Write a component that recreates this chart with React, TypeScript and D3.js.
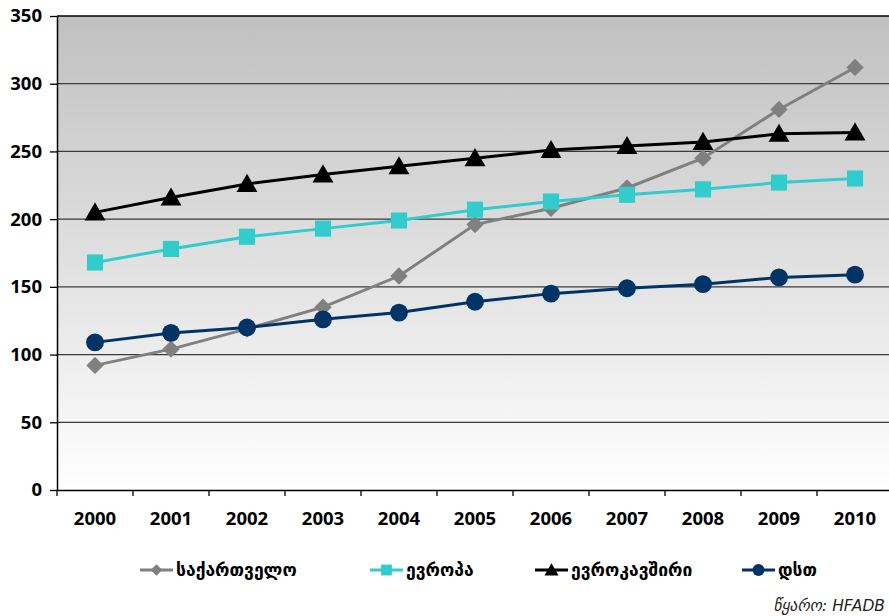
import { useEffect, useRef } from "react";
import * as d3 from "d3";

// ----- Data ---------------------------------------------------------------
const years = ["2000", "2001", "2002", "2003", "2004", "2005", "2006", "2007", "2008", "2009", "2010"];
const georgia = [92, 104, 119, 135, 158, 196, 208, 223, 245, 281, 312];
const europe = [168, 178, 187, 193, 199, 207, 213, 218, 222, 227, 230];
const eu = [205, 216, 226, 233, 239, 245, 251, 254, 257, 263, 264];
const cis = [109, 116, 120, 126, 131, 139, 145, 149, 152, 157, 159];
const yTicks = [0, 50, 100, 150, 200, 250, 300, 350];

const seriesNames = ["საქართველო", "ევროპა", "ევროკავშირი", "დსთ"];
const sourceLabel = "წყარო: HFADB";

type Marker = "diamond" | "square" | "triangle" | "circle";

const series: { name: string; values: number[]; color: string; marker: Marker }[] = [
  { name: seriesNames[0], values: georgia, color: "#808080", marker: "diamond" },
  { name: seriesNames[1], values: europe, color: "#33cccc", marker: "square" },
  { name: seriesNames[2], values: eu, color: "#000000", marker: "triangle" },
  { name: seriesNames[3], values: cis, color: "#003366", marker: "circle" },
];

const W = 889;
const H = 616;
const FONT = "'Open Sans', 'DejaVu Sans', sans-serif";

const App = () => {
  const svgRef = useRef<SVGSVGElement | null>(null);

  useEffect(() => {
    const svg = d3.select(svgRef.current);
    svg.selectAll("*").remove();

    const left = 57;
    const top = 16;
    const bottom = 490;
    const right = left + years.length * 76;

    const x = d3.scaleBand<string>().domain(years).range([left, right]);
    const y = d3.scaleLinear().domain([0, 350]).range([bottom, top]);
    const cx = (d: string) => (x(d) as number) + x.bandwidth() / 2;

    // background gradient
    const defs = svg.append("defs");
    const grad = defs
      .append("linearGradient")
      .attr("id", "bg")
      .attr("x1", 0)
      .attr("y1", 0)
      .attr("x2", 0)
      .attr("y2", 1);
    grad.append("stop").attr("offset", "0%").attr("stop-color", "#c0c0c0");
    grad.append("stop").attr("offset", "100%").attr("stop-color", "#ffffff");

    svg
      .append("rect")
      .attr("x", left)
      .attr("y", top)
      .attr("width", right - left)
      .attr("height", bottom - top)
      .attr("fill", "url(#bg)");

    // gridlines
    svg
      .append("g")
      .selectAll("line")
      .data(yTicks.filter((t) => t > 0))
      .join("line")
      .attr("x1", left)
      .attr("x2", right)
      .attr("y1", (d) => y(d))
      .attr("y2", (d) => y(d))
      .attr("stroke", (d) => (d === 350 ? "#000" : "#3a3a3a"))
      .attr("stroke-width", 1.3);

    // y axis
    const yAxis = svg
      .append("g")
      .attr("transform", `translate(${left},0)`)
      .call(d3.axisLeft(y).tickValues(yTicks).tickSize(7).tickPadding(8).tickSizeOuter(0));
    yAxis.select(".domain").attr("stroke", "#000").attr("stroke-width", 1.5);
    yAxis.selectAll("line").attr("stroke", "#000").attr("stroke-width", 1.3);
    yAxis
      .selectAll("text")
      .attr("font-family", FONT)
      .attr("font-weight", "bold")
      .attr("font-size", 18.5)
      .attr("fill", "#000");

    // x axis
    const xAxis = svg
      .append("g")
      .attr("transform", `translate(0,${bottom})`)
      .call(d3.axisBottom(x).tickSize(0).tickPadding(22).tickSizeOuter(0));
    xAxis.select(".domain").attr("stroke", "#000").attr("stroke-width", 1.5);
    xAxis
      .selectAll("text")
      .attr("font-family", FONT)
      .attr("font-weight", "bold")
      .attr("font-size", 18.5)
      .attr("fill", "#000");
    // category separator ticks
    svg
      .append("g")
      .selectAll("line")
      .data(years)
      .join("line")
      .attr("x1", (d) => x(d) as number)
      .attr("x2", (d) => x(d) as number)
      .attr("y1", bottom)
      .attr("y2", bottom + 6)
      .attr("stroke", "#000")
      .attr("stroke-width", 1.3);

    const symbolFor = (m: Marker, scale = 1) => {
      const map: Record<Marker, [d3.SymbolType, number]> = {
        diamond: [d3.symbolSquare, 150],
        square: [d3.symbolSquare, 260],
        triangle: [d3.symbolTriangle, 190],
        circle: [d3.symbolCircle, 250],
      };
      const [type, size] = map[m];
      return d3.symbol().type(type).size(size * scale)();
    };

    const drawMarker = (
      g: d3.Selection<SVGGElement, unknown, null, undefined>,
      m: Marker,
      px: number,
      py: number,
      color: string,
      scale = 1,
    ) => {
      const rot = m === "diamond" ? 45 : 0;
      const dy = m === "triangle" ? 2 * Math.sqrt(scale) : 0;
      g.append("path")
        .attr("d", symbolFor(m, scale) as string)
        .attr("transform", `translate(${px},${py + dy}) rotate(${rot})`)
        .attr("fill", color);
    };

    // lines & markers
    const plot = svg.append("g");
    series.forEach((s) => {
      const pts = years.map((yr, i) => [cx(yr), y(s.values[i])] as [number, number]);
      plot
        .append("path")
        .datum(pts)
        .attr("fill", "none")
        .attr("stroke", s.color)
        .attr("stroke-width", 3)
        .attr("d", d3.line());
      const mg = plot.append("g");
      pts.forEach(([px, py]) => drawMarker(mg, s.marker, px, py, s.color));
    });

    // legend
    const legendX = [140, 370, 535, 742];
    const legend = svg.append("g");
    series.forEach((s, i) => {
      const lx = legendX[i];
      const ly = 570;
      legend
        .append("line")
        .attr("x1", lx)
        .attr("x2", lx + 33)
        .attr("y1", ly)
        .attr("y2", ly)
        .attr("stroke", s.color)
        .attr("stroke-width", 3);
      drawMarker(legend as any, s.marker, lx + 16.5, ly, s.color, 0.45);
      legend
        .append("text")
        .attr("x", lx + 36)
        .attr("y", ly)
        .attr("dy", "0.35em")
        .attr("font-family", "'DejaVu Sans', sans-serif")
        .attr("font-weight", "bold")
        .attr("font-size", 17.5)
        .attr("fill", "#000")
        .text(s.name);
    });

    // source
    svg
      .append("text")
      .attr("x", 885)
      .attr("y", 611)
      .attr("text-anchor", "end")
      .attr("font-family", "'DejaVu Sans', sans-serif")
      .attr("font-style", "italic")
      .attr("font-size", 15.5)
      .attr("fill", "#222")
      .text(sourceLabel);
  }, []);

  return (
    <svg
      ref={svgRef}
      width={W}
      height={H}
      viewBox={`0 0 ${W} ${H}`}
      style={{ position: "absolute", left: 0, top: 0, background: "#fff", display: "block" }}
    />
  );
};

export default App;
